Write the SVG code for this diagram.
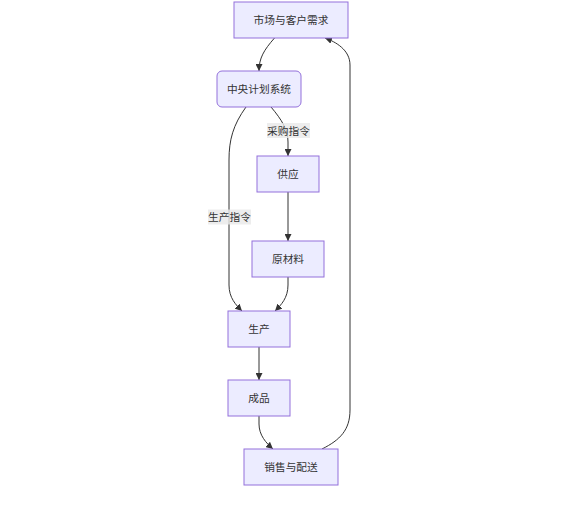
<svg xmlns="http://www.w3.org/2000/svg" width="585" height="513" viewBox="0 0 585 513">
<style>
.node rect{fill:#ECECFF;stroke:#9370DB;stroke-width:1}
.node text,.lbl text{font-family:"Liberation Sans","Noto Sans CJK SC",sans-serif;font-size:10.7px;fill:#333;text-anchor:middle;dominant-baseline:central}
.edge{fill:none;stroke:#333;stroke-width:1}
.lbl rect{fill:#e8e8e8;opacity:0.8}
</style>
<defs>
<marker id="arr" viewBox="0 0 10 10" refX="10" refY="5" markerUnits="userSpaceOnUse" markerWidth="7" markerHeight="7" orient="auto">
<path d="M0,0 L10,5 L0,10 z" fill="#333"/>
</marker>
</defs>
<rect width="585" height="513" fill="#fff"/>
<g id="connectors">
<path class="edge" marker-end="url(#arr)" d="M274.5,38 C264,50 259,58 259,71"/>
<path class="edge" marker-end="url(#arr)" d="M271,107 C282,120 288,130 288,142 L288,156"/>
<path class="edge" marker-end="url(#arr)" d="M246,107 C233,125 229,140 229,160 L229,285 C229,298 236,305 242,311"/>
<path class="edge" marker-end="url(#arr)" d="M288,192 L288,241"/>
<path class="edge" marker-end="url(#arr)" d="M288,277 L288,285 C288,298 281,305 275,311"/>
<path class="edge" marker-end="url(#arr)" d="M259,347 L259,380"/>
<path class="edge" marker-end="url(#arr)" d="M259,416 L259,424 C259,435 266,443 273,449"/>
<path class="edge" marker-end="url(#arr)" d="M322,449 C340,440 350,430 350,410 L350,65 C350,50 336,42 325,38"/>
<g class="lbl"><rect x="267" y="123" width="43" height="15"/><text x="288.5" y="130.5">采购指令</text></g>
<g class="lbl"><rect x="208" y="209.5" width="43" height="15"/><text x="229.5" y="217">生产指令</text></g>
</g>
<g id="n1" class="node"><rect x="234" y="2" width="114" height="36"/><text x="291" y="20">市场与客户需求</text></g>
<g id="n2" class="node"><rect x="217" y="71" width="84" height="36" rx="5" ry="5"/><text x="259" y="89">中央计划系统</text></g>
<g id="n3" class="node"><rect x="257" y="156" width="62" height="36"/><text x="288" y="174">供应</text></g>
<g id="n4" class="node"><rect x="252" y="241" width="72" height="36"/><text x="288" y="259">原材料</text></g>
<g id="n5" class="node"><rect x="228" y="311" width="62" height="36"/><text x="259" y="329">生产</text></g>
<g id="n6" class="node"><rect x="228" y="380" width="62" height="36"/><text x="259" y="398">成品</text></g>
<g id="n7" class="node"><rect x="244" y="449" width="94" height="36"/><text x="291" y="467">销售与配送</text></g>
</svg>
